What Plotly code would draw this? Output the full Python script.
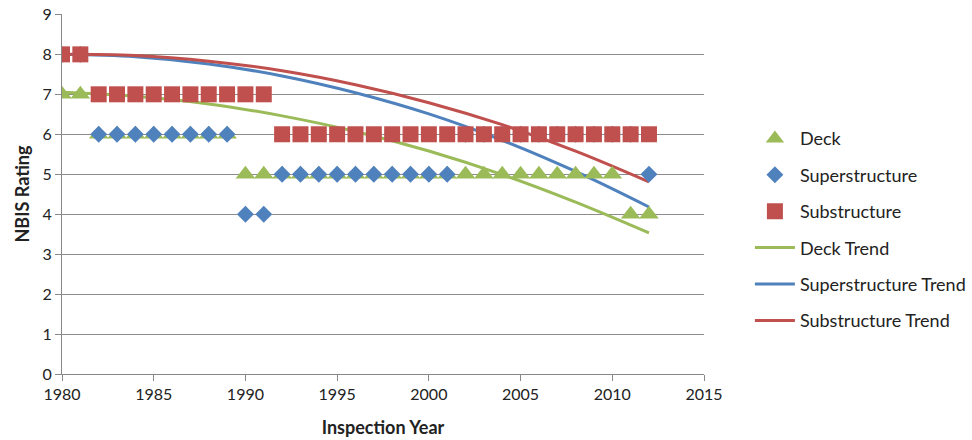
import plotly.graph_objects as go

years = list(range(1980, 2013))
deck = [7, 7] + [6] * 8 + [5] * 21 + [4, 4]
superstructure = [8, 8] + [6] * 8 + [4, 4] + [5] * 10 + [6] * 10 + [5]
substructure = [8, 8] + [7] * 10 + [6] * 21

trend_years = [1980, 1984, 1988, 1992, 1996, 2000, 2004, 2008, 2012]
deck_trend = [7.05, 6.95, 6.76, 6.46, 6.07, 5.58, 4.99, 4.30, 3.53]
super_trend = [8.0, 7.94, 7.76, 7.46, 7.04, 6.51, 5.85, 5.07, 4.18]
sub_trend = [8.0, 7.97, 7.83, 7.59, 7.24, 6.79, 6.24, 5.58, 4.81]

GREEN = "#9BBB59"
BLUE = "#4F81BD"
RED = "#C0504D"
FONT = "Lato"

fig = go.Figure()

# trend lines (drawn beneath markers)
for name, vals, col, rank in [("Deck Trend", deck_trend, GREEN, 4),
                              ("Superstructure Trend", super_trend, BLUE, 5),
                              ("Substructure Trend", sub_trend, RED, 6)]:
    fig.add_trace(go.Scatter(x=trend_years, y=vals, mode="lines", name=name,
                             line=dict(color=col, width=3, shape="spline"),
                             legendrank=rank, legendgroup=name))

fig.add_trace(go.Scatter(x=years, y=deck, mode="markers", name="Deck",
                         marker=dict(symbol="triangle-up", size=17, color=GREEN),
                         legendrank=1, legendgroup="Deck"))
fig.add_trace(go.Scatter(x=years, y=superstructure, mode="markers", name="Superstructure",
                         marker=dict(symbol="diamond", size=13, color=BLUE),
                         legendrank=2, legendgroup="Superstructure"))
fig.add_trace(go.Scatter(x=years, y=substructure, mode="markers", name="Substructure",
                         marker=dict(symbol="square", size=16, color=RED),
                         legendrank=3, legendgroup="Substructure"))

fig.update_layout(
    width=972, height=440,
    margin=dict(l=62, r=268, t=14, b=66, autoexpand=False),
    plot_bgcolor="white", paper_bgcolor="white",
    font=dict(family=FONT, size=16, color="#222"),
    legend=dict(x=1.0715, y=0.705, xanchor="left", yanchor="top",
                font=dict(family=FONT, size=18, color="#222"),
                tracegroupgap=10, itemwidth=40, bgcolor="rgba(0,0,0,0)"),
    xaxis=dict(range=[1980, 2015], tickmode="linear", tick0=1980, dtick=5,
               showgrid=False, showline=True, linecolor="#888", linewidth=1,
               ticks="outside", ticklen=6, tickcolor="#888", zeroline=False,
               automargin=False,
               title=dict(text="<b>Inspection Year</b>", font=dict(family=FONT, size=18), standoff=19),
               tickfont=dict(family=FONT, size=16)),
    yaxis=dict(range=[0, 9.01], tickmode="linear", tick0=0, dtick=1,
               showgrid=True, gridcolor="#8C8C8C", gridwidth=1,
               showline=True, linecolor="#888", linewidth=1,
               ticks="outside", ticklen=6, tickcolor="#888", zeroline=False,
               automargin=False,
               title=dict(text="<b>NBIS Rating</b>", font=dict(family=FONT, size=18), standoff=8),
               tickfont=dict(family=FONT, size=16)),
)

fig.write_html("out.html", config={"displayModeBar": False},
               post_script="document.body.style.margin='0';")
